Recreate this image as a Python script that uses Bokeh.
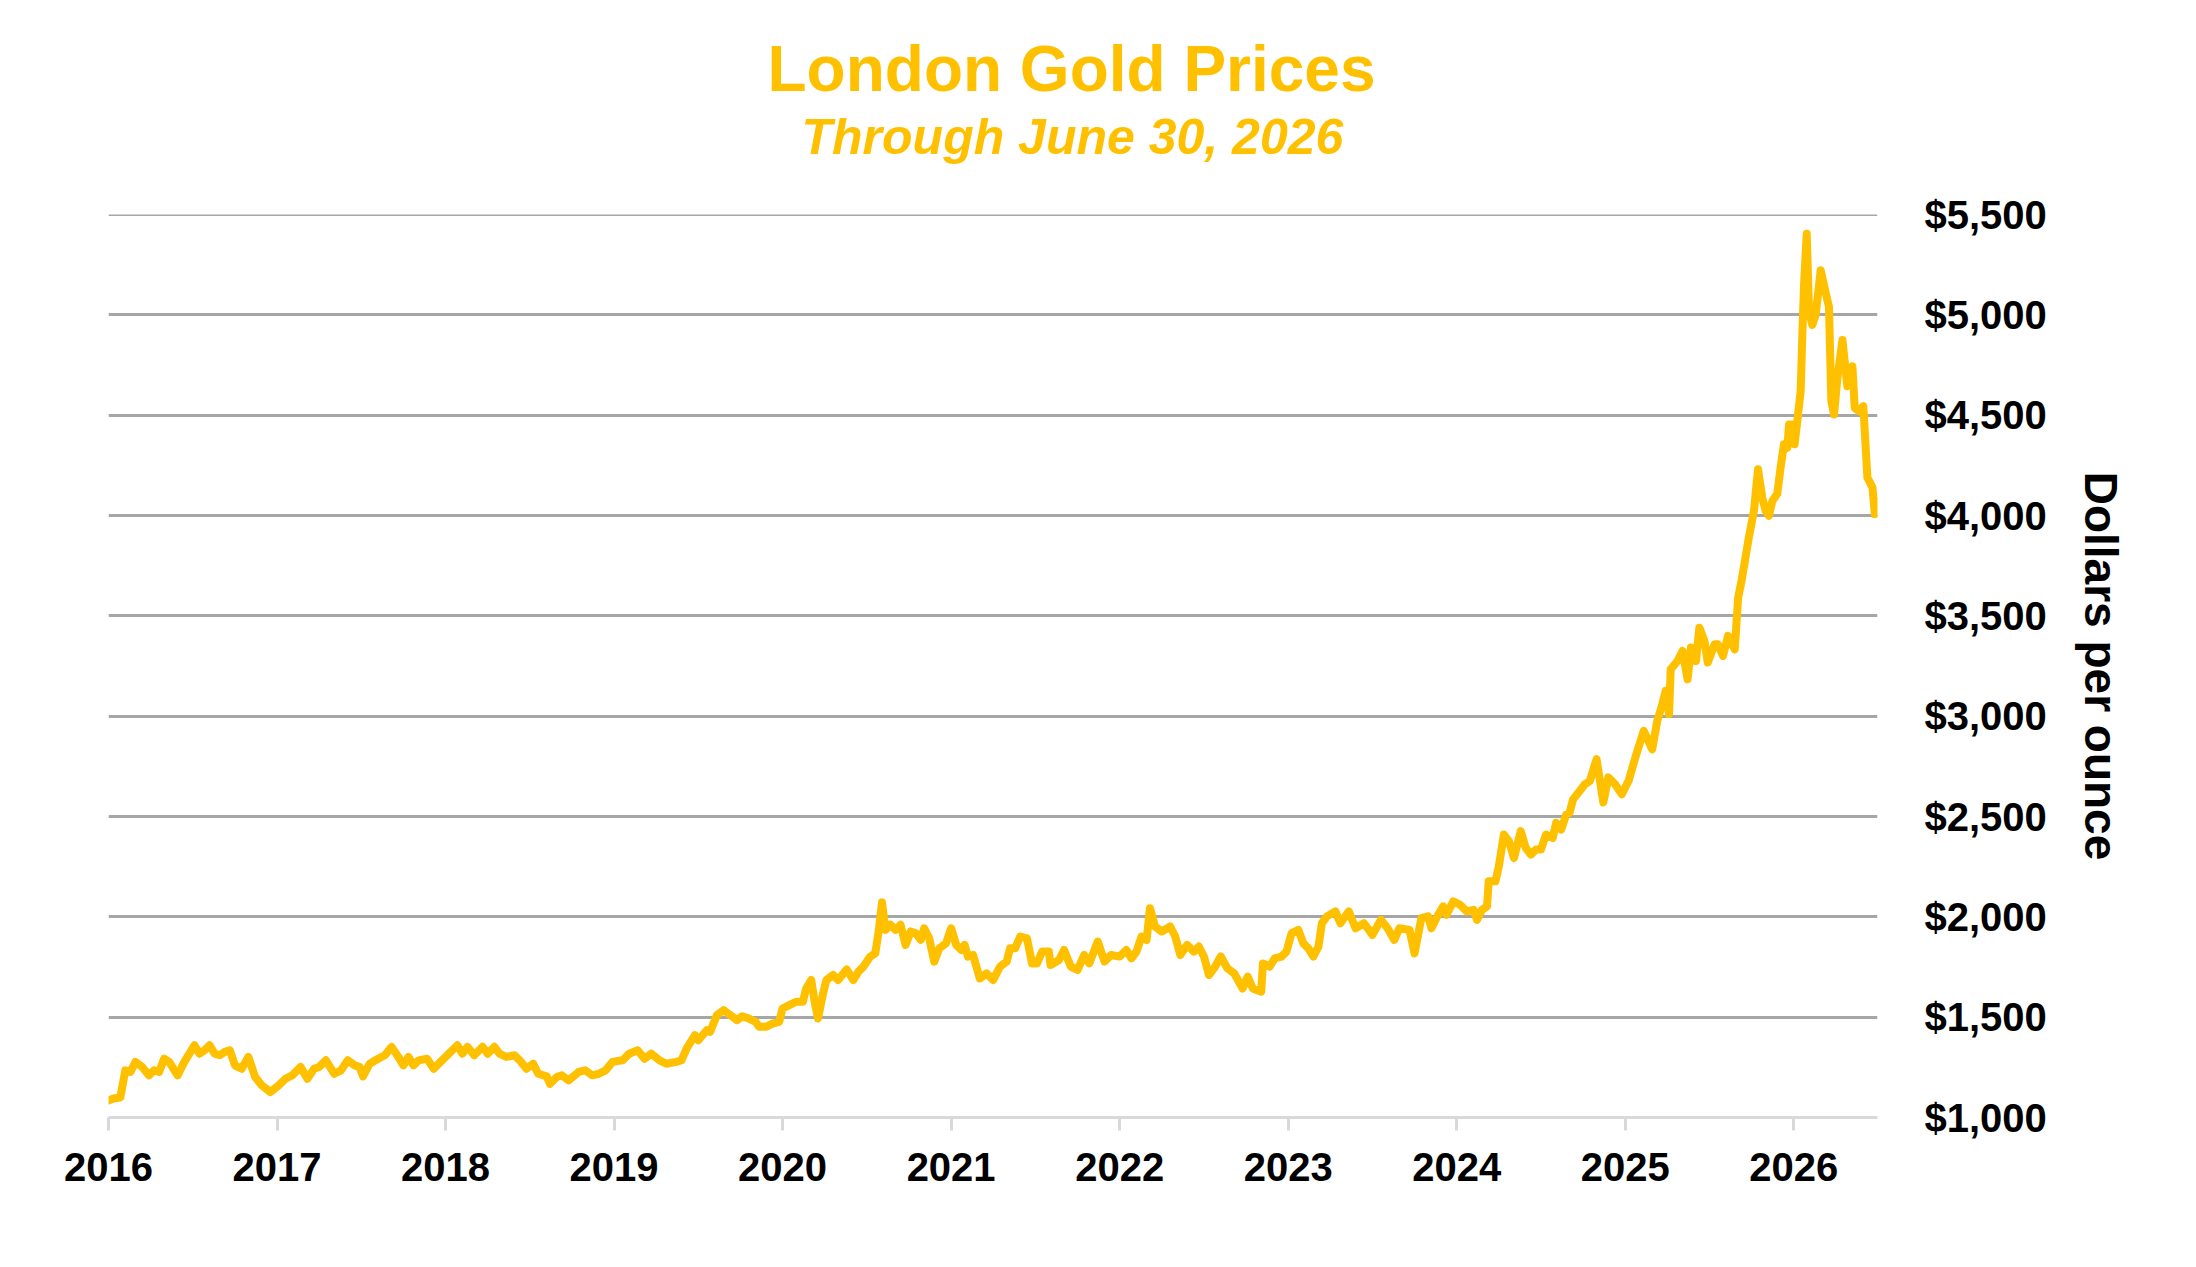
from bokeh.plotting import figure
from bokeh.models import ColumnDataSource, FixedTicker, Title, Range1d, Span
from bokeh.embed import file_html
from bokeh.resources import INLINE

title_text = "London Gold Prices"
subtitle_text = "Through June 30, 2026"
y_axis_title = "Dollars per ounce"

year_ticks = [2016, 2017, 2018, 2019, 2020, 2021, 2022, 2023, 2024, 2025, 2026]
year_labels = ["2016", "2017", "2018", "2019", "2020", "2021", "2022", "2023", "2024", "2025", "2026"]
price_ticks = [1000, 1500, 2000, 2500, 3000, 3500, 4000, 4500, 5000, 5500]
price_labels = ["$1,000", "$1,500", "$2,000", "$2,500", "$3,000", "$3,500", "$4,000", "$4,500", "$5,000", "$5,500"]

# decimal year of each reading
years = [
    2016.00, 2016.03, 2016.07, 2016.10, 2016.13, 2016.16, 2016.20, 2016.24, 2016.27, 2016.30,
    2016.33, 2016.36, 2016.41, 2016.45, 2016.48, 2016.51, 2016.54, 2016.57, 2016.60, 2016.63,
    2016.66, 2016.69, 2016.72, 2016.75, 2016.79, 2016.83, 2016.87, 2016.91, 2016.96,
    2017.01, 2017.05, 2017.09, 2017.14, 2017.18, 2017.22, 2017.25, 2017.29, 2017.34, 2017.38,
    2017.42, 2017.46, 2017.49, 2017.51, 2017.55, 2017.60, 2017.64, 2017.68, 2017.72, 2017.75,
    2017.78, 2017.81, 2017.84, 2017.89, 2017.93, 2017.97,
    2018.02, 2018.07, 2018.10, 2018.13, 2018.17, 2018.22, 2018.25, 2018.29, 2018.32, 2018.36,
    2018.41, 2018.44, 2018.48, 2018.52, 2018.55, 2018.60, 2018.62, 2018.66, 2018.69, 2018.73,
    2018.79, 2018.83, 2018.87, 2018.91, 2018.95, 2018.99,
    2019.05, 2019.09, 2019.14, 2019.18, 2019.22, 2019.27, 2019.31, 2019.37, 2019.40, 2019.43,
    2019.48, 2019.50, 2019.55, 2019.57, 2019.61, 2019.65, 2019.69, 2019.73, 2019.76, 2019.80,
    2019.84, 2019.86, 2019.90, 2019.94, 2019.98,
    2020.00, 2020.04, 2020.08, 2020.12, 2020.14, 2020.17, 2020.19, 2020.21, 2020.24, 2020.26,
    2020.30, 2020.33, 2020.38, 2020.42, 2020.45, 2020.48, 2020.52, 2020.55, 2020.57, 2020.59,
    2020.61, 2020.64, 2020.67, 2020.70, 2020.73, 2020.76, 2020.79, 2020.82, 2020.84, 2020.87,
    2020.90, 2020.93, 2020.97,
    2021.00, 2021.03, 2021.06, 2021.08, 2021.10, 2021.13, 2021.17, 2021.21, 2021.25, 2021.29,
    2021.33, 2021.35, 2021.38, 2021.41, 2021.45, 2021.48, 2021.51, 2021.54, 2021.58, 2021.59,
    2021.64, 2021.67, 2021.71, 2021.75, 2021.79, 2021.82, 2021.87, 2021.91, 2021.95,
    2022.00, 2022.04, 2022.07, 2022.10, 2022.13, 2022.16, 2022.18, 2022.21, 2022.25, 2022.30,
    2022.33, 2022.36, 2022.40, 2022.44, 2022.47, 2022.50, 2022.53, 2022.56, 2022.60, 2022.64,
    2022.68, 2022.73, 2022.76, 2022.79, 2022.84, 2022.85, 2022.89, 2022.92, 2022.96, 2022.99,
    2023.02, 2023.06, 2023.09, 2023.12, 2023.15, 2023.18, 2023.20, 2023.23, 2023.28, 2023.31,
    2023.36, 2023.40, 2023.45, 2023.50, 2023.55, 2023.59, 2023.63, 2023.66, 2023.72, 2023.75,
    2023.79, 2023.83, 2023.85, 2023.89, 2023.92, 2023.94, 2023.98,
    2024.02, 2024.06, 2024.10, 2024.12, 2024.15, 2024.18, 2024.19, 2024.23, 2024.25, 2024.28,
    2024.31, 2024.34, 2024.38, 2024.41, 2024.44, 2024.47, 2024.50, 2024.53, 2024.57, 2024.59,
    2024.62, 2024.65, 2024.67, 2024.69, 2024.73, 2024.76, 2024.79, 2024.83, 2024.87, 2024.90,
    2024.94, 2024.98,
    2025.02, 2025.06, 2025.11, 2025.16, 2025.19, 2025.22, 2025.24, 2025.26, 2025.27, 2025.31,
    2025.34, 2025.37, 2025.39, 2025.42, 2025.44, 2025.47, 2025.49, 2025.53, 2025.55, 2025.58,
    2025.61, 2025.65, 2025.67, 2025.69, 2025.734, 2025.764, 2025.788, 2025.813, 2025.833, 2025.853,
    2025.873, 2025.902, 2025.922, 2025.942, 2025.962, 2025.972, 2025.992,
    2026.005, 2026.021, 2026.041, 2026.051, 2026.061, 2026.077, 2026.091, 2026.110, 2026.130, 2026.160,
    2026.184, 2026.209, 2026.223, 2026.239, 2026.259, 2026.289, 2026.318, 2026.348, 2026.362, 2026.388,
    2026.413, 2026.437, 2026.467, 2026.481, 2026.493,
]

# London gold price, US dollars per ounce
prices = [
    1085, 1095, 1100, 1235, 1227, 1277, 1252, 1210, 1235, 1227,
    1293, 1277, 1210, 1277, 1318, 1360, 1318, 1335, 1360, 1318,
    1310, 1327, 1335, 1260, 1243, 1302, 1202, 1160, 1127,
    1160, 1193, 1210, 1252, 1193, 1243, 1252, 1285, 1218, 1235,
    1285, 1260, 1252, 1205, 1268, 1293, 1310, 1352, 1302, 1260,
    1302, 1260, 1285, 1293, 1243, 1277,
    1318, 1360, 1318, 1352, 1310, 1352, 1318, 1352, 1318, 1302,
    1310, 1285, 1243, 1268, 1218, 1205, 1168, 1202, 1210, 1185,
    1227, 1235, 1210, 1218, 1235, 1277,
    1285, 1318, 1335, 1293, 1318, 1285, 1268, 1277, 1285, 1343,
    1410, 1385, 1435, 1427, 1510, 1535, 1510, 1485, 1505, 1493,
    1477, 1452, 1452, 1468, 1477,
    1543, 1560, 1577, 1577, 1643, 1685, 1577, 1493, 1618, 1685,
    1710, 1685, 1738, 1685, 1727, 1752, 1802, 1818, 1927, 2072,
    1935, 1960, 1935, 1960, 1860, 1927, 1918, 1885, 1943, 1893,
    1777, 1843, 1868,
    1943, 1860, 1835, 1860, 1802, 1810, 1693, 1718, 1685, 1752,
    1777, 1843, 1843, 1902, 1893, 1768, 1768, 1827, 1827, 1760,
    1785, 1835, 1752, 1735, 1810, 1768, 1877, 1777, 1810,
    1802, 1835, 1793, 1827, 1902, 1885, 2043, 1952, 1927, 1952,
    1902, 1810, 1860, 1827, 1852, 1802, 1710, 1743, 1802, 1743,
    1718, 1643, 1702, 1643, 1627, 1768, 1752, 1793, 1802, 1827,
    1918, 1935, 1868, 1843, 1802, 1852, 1968, 2002, 2027, 1968,
    2027, 1943, 1968, 1910, 1985, 1943, 1885, 1943, 1935, 1818,
    1993, 2002, 1943, 2010, 2052, 2010, 2077,
    2060, 2027, 2035, 1985, 2035, 2052, 2177, 2177, 2252, 2410,
    2377, 2293, 2427, 2343, 2310, 2335, 2335, 2410, 2393, 2468,
    2435, 2510, 2518, 2585, 2627, 2660, 2677, 2786, 2570, 2695,
    2661, 2611,
    2678, 2794, 2927, 2835, 2976, 3059, 3126, 3010, 3234, 3275,
    3325, 3184, 3342, 3275, 3441, 3375, 3267, 3358, 3358, 3300,
    3400, 3333, 3590, 3673, 3892, 4024, 4230, 4090, 4024, 3999,
    4073, 4107, 4239, 4355, 4338, 4454, 4454,
    4355, 4470, 4619, 4900, 5148, 5404, 5016, 4950, 4999, 5222,
    5131, 5040, 4569, 4503, 4685, 4875, 4644, 4743, 4536, 4520,
    4545, 4189, 4140, 4007, 4073,
]

GOLD = "#FFC000"
FONT = "Liberation Sans"

source = ColumnDataSource(data=dict(year=years, price=prices))

p = figure(
    width=2180, height=1200,
    x_range=Range1d(2016.0, 2026.497), y_range=Range1d(1000, 5500),
    y_axis_location="right",
    output_backend="svg", toolbar_location=None,
    min_border_left=108, min_border_right=303,
    min_border_top=214, min_border_bottom=83,
    background_fill_color="white", border_fill_color="white",
)
p.outline_line_color = None
p.title.visible = False

# grids
p.xgrid.grid_line_color = None
p.ygrid.ticker = FixedTicker(ticks=price_ticks[1:])
p.ygrid.grid_line_color = "#A6A6A6"
p.ygrid.grid_line_width = 3
p.add_layout(Span(location=price_ticks[-1], dimension="width",
                  line_color="#A6A6A6", line_width=3, level="underlay"))

p.line("year", "price", source=source, line_color=GOLD, line_width=8,
       line_join="round", line_cap="round")

# x axis
xa = p.xaxis[0]
xa.ticker = FixedTicker(ticks=year_ticks)
xa.major_label_overrides = {t: l for t, l in zip(year_ticks, year_labels)}
xa.axis_line_color = "#D9D9D9"
xa.axis_line_width = 3
xa.major_tick_line_color = "#D9D9D9"
xa.major_tick_line_width = 3
xa.major_tick_out = 13
xa.major_tick_in = 0
xa.minor_tick_line_color = None
xa.major_label_standoff = 22
xa.major_label_text_font = FONT
xa.major_label_text_font_style = "bold"
xa.major_label_text_font_size = "40px"
xa.major_label_text_color = "black"

# y axis (right)
ya = p.yaxis[0]
ya.ticker = FixedTicker(ticks=price_ticks)
ya.major_label_overrides = {t: l for t, l in zip(price_ticks, price_labels)}
ya.axis_line_color = None
ya.major_tick_line_color = None
ya.minor_tick_line_color = None
ya.major_tick_out = 0
ya.major_tick_in = 0
ya.major_label_standoff = 47
ya.major_label_text_font = FONT
ya.major_label_text_font_style = "bold"
ya.major_label_text_font_size = "40px"
ya.major_label_text_color = "black"
ya.axis_label = y_axis_title
ya.axis_label_text_font = FONT
ya.axis_label_text_font_style = "bold"
ya.axis_label_text_font_size = "46px"
ya.axis_label_text_color = "black"
ya.axis_label_standoff = 25

# titles, stacked upward from the plot: spacer, subtitle, title
p.add_layout(Title(text=" ", align="left", standoff=47, text_font=FONT,
                   text_font_size="1px", text_color="white"), "above")
p.add_layout(Title(text=subtitle_text, align="left", offset=693, standoff=0,
                   text_font=FONT, text_font_style="bold italic", text_font_size="50px",
                   text_color=GOLD), "above")
p.add_layout(Title(text=title_text, align="left", offset=659, standoff=4,
                   text_font=FONT, text_font_style="bold", text_font_size="64px",
                   text_color=GOLD), "above")

open("out.html", "w").write(file_html(p, INLINE))
